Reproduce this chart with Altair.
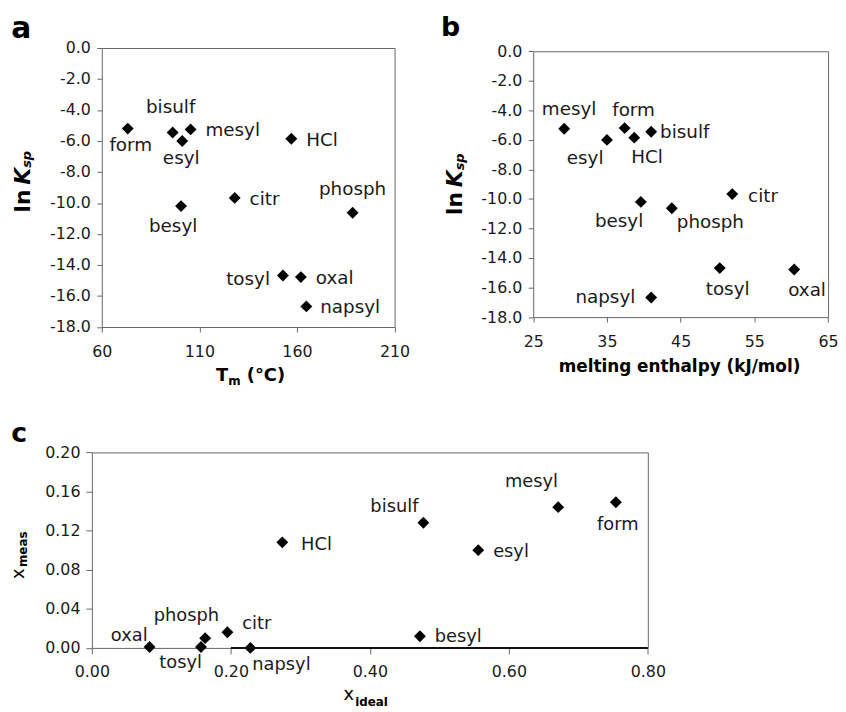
import altair as alt
import pandas as pd

# ------------------------------------------------------------------ data
salts = ["form", "bisulf", "mesyl", "esyl", "HCl", "citr", "besyl", "phosph", "tosyl", "oxal", "napsyl"]
melting_point = [73.3, 96.3, 105.5, 101.2, 157.1, 128.1, 100.6, 188.5, 152.8, 162.0, 164.8]
melting_enthalpy = [37.4, 41.0, 29.2, 35.0, 38.7, 52.0, 39.6, 43.8, 50.3, 60.4, 41.0]
ln_ksp = [-5.2, -5.45, -5.25, -6.0, -5.85, -9.67, -10.2, -10.63, -14.68, -14.78, -16.67]
x_ideal = [0.754, 0.477, 0.671, 0.556, 0.274, 0.195, 0.472, 0.163, 0.157, 0.083, 0.228]
x_meas = [0.149, 0.128, 0.144, 0.100, 0.108, 0.016, 0.012, 0.010, 0.001, 0.001, 0.000]

tm_ticks = [60, 110, 160, 210]
dh_ticks = [25, 35, 45, 55, 65]
lnk_ticks = [0, -2, -4, -6, -8, -10, -12, -14, -16, -18]
xid_ticks = [0.0, 0.2, 0.4, 0.6, 0.8]
xme_ticks = [0.0, 0.04, 0.08, 0.12, 0.16, 0.20]
heavy_axis_x = [0.2, 0.8]  # dark segment drawn on x_meas = 0
heavy_axis_y = [0.0]

df = pd.DataFrame({"salt": salts, "tm": melting_point, "dh": melting_enthalpy,
                   "lnk": ln_ksp, "xid": x_ideal, "xme": x_meas})
seg = pd.DataFrame({"x0": [heavy_axis_x[0]], "x1": [heavy_axis_x[1]], "y0": heavy_axis_y})

# ------------------------------------------------------------------ label placement (align, dx, dy)
LAB_A = {"form": ("center", 3, 16.5), "bisulf": ("center", -2, -25.5), "mesyl": ("left", 15, 1),
         "esyl": ("center", -1, 17.5), "HCl": ("left", 15, 1.5), "citr": ("left", 15, 1.5),
         "besyl": ("center", -8, 20), "phosph": ("center", 0, -23.5), "tosyl": ("right", -13, 3.5),
         "oxal": ("left", 15, 1), "napsyl": ("left", 14, 0.5)}
LAB_B = {"mesyl": ("center", 5, -19.5), "form": ("center", 9, -18.5), "bisulf": ("left", 9, 0.2),
         "esyl": ("center", -22, 18.5), "HCl": ("center", 13, 20), "besyl": ("center", -22, 19.5),
         "phosph": ("left", 5, 13.5), "citr": ("left", 16, 1.7), "tosyl": ("center", 8, 21.5),
         "oxal": ("center", 13, 20.5), "napsyl": ("right", -16, -0.2)}
LAB_C = {"oxal": ("right", -2, -11.5), "phosph": ("center", -19, -22), "tosyl": ("right", 1, 16.5),
         "citr": ("left", 15, -8.5), "napsyl": ("left", 2, 16.8), "HCl": ("left", 19, 2.5),
         "bisulf": ("right", -5, -15.5), "mesyl": ("center", -27, -25.5), "form": ("center", 2, 22.5),
         "esyl": ("left", 15, 2.2), "besyl": ("left", 15, 1.2)}

# ------------------------------------------------------------------ layout (pixels inside the one view)
W, H = 743.3, 605.7
FONT = "DejaVu Sans"
AXC = "#666666"
TXT = "#1a1a1a"
HYPHEN = "datum.value < 0 ? '-' + format(-datum.value, '.1f') : format(datum.value, '.1f')"


def main_axis(orient, offset, values, tick, pad, fmt=None, expr=None):
    kw = dict(orient=orient, offset=offset, values=values, tickSize=tick, labelPadding=pad,
              labelFont=FONT, labelFontSize=16, labelColor=TXT, domainColor=AXC, tickColor=AXC,
              domainWidth=1, tickWidth=1, grid=False, title=None, labelFlush=False, labelOverlap=False)
    if fmt is not None:
        kw["format"] = fmt
    if expr is not None:
        kw["labelExpr"] = expr
    return alt.Axis(**kw)


def frame_axis(orient, offset):
    return alt.Axis(orient=orient, offset=offset, labels=False, ticks=False, grid=False, title=None,
                    domainColor=AXC, domainWidth=1)


def panel(xf, yf, xdom, xr, ydom, yr, off, xaxis_kw, yaxis_kw, labels, lab_size, extra=()):
    xs = alt.Scale(domain=xdom, range=xr, nice=False, zero=False)
    ys = alt.Scale(domain=ydom, range=yr, nice=False, zero=False)
    base = alt.Chart(df)
    pts = base.mark_point(shape="diamond", filled=True, size=144, color="black", opacity=1).encode(
        x=alt.X(f"{xf}:Q", scale=xs, axis=main_axis("bottom", off[0], **xaxis_kw)),
        y=alt.Y(f"{yf}:Q", scale=ys, axis=main_axis("left", off[1], **yaxis_kw)),
    )
    frame = base.mark_point(opacity=0, size=1).encode(
        x=alt.X(f"{xf}:Q", scale=xs, axis=frame_axis("top", off[2])),
        y=alt.Y(f"{yf}:Q", scale=ys, axis=frame_axis("right", off[3])),
    )
    layers = [pts, frame]
    for e in extra:
        layers.append(e(xs, ys))
    for name, (align, dx, dy) in labels.items():
        layers.append(
            base.transform_filter(alt.datum.salt == name)
            .mark_text(align=align, baseline="middle", dx=dx, dy=dy, font=FONT, fontSize=lab_size, color=TXT)
            .encode(x=alt.X(f"{xf}:Q", scale=xs, axis=None),
                    y=alt.Y(f"{yf}:Q", scale=ys, axis=None),
                    text="salt:N")
        )
    return alt.layer(*layers).resolve_axis(x="independent", y="independent")


def heavy_seg(xs, ys):
    return alt.Chart(seg).mark_rule(color="#111111", strokeWidth=2).encode(
        x=alt.X("x0:Q", scale=xs, axis=None), x2="x1:Q",
        y=alt.Y("y0:Q", scale=ys, axis=None))


pa = panel("tm", "lnk", [60, 210], [10, 305.6], [-18, 0], [281.7, 0], (-324, -10, 0, -437.7),
           dict(values=tm_ticks, tick=5, pad=12), dict(values=lnk_ticks, tick=5, pad=6.5, expr=HYPHEN),
           LAB_A, 18.5)
pb = panel("dh", "lnk", [25, 65], [445.6, 743.3], [-18, 0], [271.7, 3.3], (-334, -445.6, -3.3, 0),
           dict(values=dh_ticks, tick=5, pad=12), dict(values=lnk_ticks, tick=5, pad=6.5, expr=HYPHEN),
           LAB_B, 18.5)
pc = panel("xid", "xme", [0, 0.8], [0, 561.3], [0, 0.2], [605.7, 408.3], (0, 0, -408.3, -182),
           dict(values=xid_ticks, tick=6, pad=9.5, fmt=".2f"), dict(values=xme_ticks, tick=6, pad=6, fmt=".2f"),
           LAB_C, 18, extra=(heavy_seg,))


def txt(s, x, y, size, bold=False, italic=False, angle=0, align="left"):
    kw = dict(align=align, baseline="alphabetic", font=FONT, fontSize=size,
              fontWeight="bold" if bold else "normal", fontStyle="italic" if italic else "normal",
              color="black")
    if angle:
        kw["angle"] = angle
    return alt.Chart(pd.DataFrame({"t": [s]})).mark_text(**kw).encode(
        text="t:N", x=alt.value(x), y=alt.value(y))


titles = [
    txt("a", -81.5, -10, 30, bold=True),
    txt("b", 352.5, -12, 27, bold=True),
    txt("c", -81.5, 398, 27, bold=True),
    # panel a axis titles
    txt("ln", -62.7, 166, 22, bold=True, angle=270),
    txt("K", -62.7, 138, 22, bold=True, italic=True, angle=270),
    txt("sp", -61, 121, 13, bold=True, italic=True, angle=270),
    txt("T", 125.3, 336.7, 18, bold=True),
    txt("m", 137.6, 340.7, 12, bold=True),
    txt("(°C)", 156.4, 336.7, 18, bold=True),
    # panel b axis titles
    txt("ln", 374, 168.5, 22, bold=True, angle=270),
    txt("K", 374, 140.5, 22, bold=True, italic=True, angle=270),
    txt("sp", 375.7, 123.5, 13, bold=True, italic=True, angle=270),
    txt("melting enthalpy (kJ/mol)", 593.3, 327, 17, bold=True, align="center"),
    # panel c axis titles
    txt("x", -68.7, 536, 18, angle=270),
    txt("meas", -66, 524, 12, bold=True, angle=270),
    txt("x", 254, 658.5, 18),
    txt("ideal", 265.8, 664, 12, bold=True),
]

chart = (
    alt.layer(pa, pb, pc, *titles)
    .resolve_scale(x="independent", y="independent")
    .resolve_axis(x="independent", y="independent")
    .properties(width=W, height=H, autosize=alt.AutoSizeParams(type="none"),
                padding={"left": 84.7, "top": 37, "right": 10, "bottom": 61.3})
    .configure_view(stroke="transparent")
)

chart.save("out.html", embed_options={"renderer": "svg", "actions": False})
